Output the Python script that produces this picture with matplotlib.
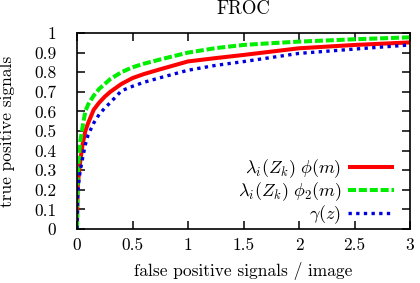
import matplotlib
matplotlib.use("Agg")
import matplotlib.pyplot as plt

plt.rcParams['font.family'] = 'serif'
plt.rcParams['font.serif'] = ['cmr10']
plt.rcParams['mathtext.fontset'] = 'cm'
plt.rcParams['axes.formatter.use_mathtext'] = True
plt.rcParams['font.size'] = 12.5

fp = [0, 0.005, 0.01, 0.02, 0.03, 0.05, 0.075, 0.1, 0.15, 0.2, 0.25, 0.3,
      0.4, 0.5, 0.6, 0.75, 1.0, 1.25, 1.5, 1.75, 2.0, 2.5, 3.0]
tp_phi = [0, 0.2, 0.24, 0.3, 0.35, 0.43, 0.5, 0.54, 0.608, 0.645, 0.675, 0.70,
          0.74, 0.77, 0.79, 0.815, 0.855, 0.872, 0.888, 0.905, 0.922, 0.939, 0.952]
tp_phi2 = [0, 0.25, 0.3, 0.4, 0.45, 0.52, 0.6, 0.635, 0.68, 0.715, 0.74, 0.765,
           0.80, 0.825, 0.843, 0.865, 0.90, 0.923, 0.939, 0.948, 0.956, 0.968, 0.978]
tp_gamma = [0, 0.15, 0.2, 0.26, 0.3, 0.36, 0.43, 0.48, 0.54, 0.585, 0.617, 0.645,
            0.705, 0.728, 0.748, 0.772, 0.81, 0.835, 0.854, 0.875, 0.896, 0.918, 0.939]

labels = [r'$\lambda_i(Z_k)\ \phi(m)$', r'$\lambda_i(Z_k)\ \phi_2(m)$', r'$\gamma(z)$']
xticks = [0, 0.5, 1, 1.5, 2, 2.5, 3]
xticklabels = ['0', '0.5', '1', '1.5', '2', '2.5', '3']
yticks = [0, 0.1, 0.2, 0.3, 0.4, 0.5, 0.6, 0.7, 0.8, 0.9, 1]
yticklabels = ['0', '0.1', '0.2', '0.3', '0.4', '0.5', '0.6', '0.7', '0.8', '0.9', '1']

W, H = 420, 283
fig = plt.figure(figsize=(W / 100, H / 100), dpi=100)
ax = fig.add_axes([77 / W, 1 - 229 / H, (410 - 77) / W, (229 - 33) / H])

ax.plot(fp, tp_phi, color='#ff0000', lw=2.9, solid_capstyle='butt', label=labels[0])
ax.plot(fp, tp_phi2, color='#00ee00', lw=2.9, linestyle=(0, (2.0, 0.7)),
        dash_capstyle='butt', label=labels[1])
ax.plot(fp, tp_gamma, color='#0000dd', lw=2.4, linestyle=(0, (1.0, 1.3)),
        dash_capstyle='butt', label=labels[2])

ax.set_xlim(0, 3)
ax.set_ylim(0, 1)
ax.set_xticks(xticks)
ax.set_xticklabels(xticklabels)
ax.set_yticks(yticks)
ax.set_yticklabels(yticklabels)
ax.tick_params(direction='in', length=6, width=1.1, top=True, right=True)
ax.tick_params(axis='x', pad=6)
ax.tick_params(axis='y', pad=15)
for s in ax.spines.values():
    s.set_linewidth(1.2)

ax.set_title('FROC', fontsize=13.5, pad=14)
ax.set_xlabel('false positive signals / image')
ax.xaxis.set_label_coords(0.5, -0.17)
ax.set_ylabel('true positive signals')
ax.yaxis.set_label_coords(-0.186, 0.5)

leg = ax.legend(loc='center right', bbox_to_anchor=(394 / W, 1 - 192 / H),
                bbox_transform=fig.transFigure, frameon=False, markerfirst=False,
                borderpad=0, borderaxespad=0, handlelength=2.55, handletextpad=0.37,
                labelspacing=0.02, fontsize=13)

fig.savefig('out.png', dpi=100)
